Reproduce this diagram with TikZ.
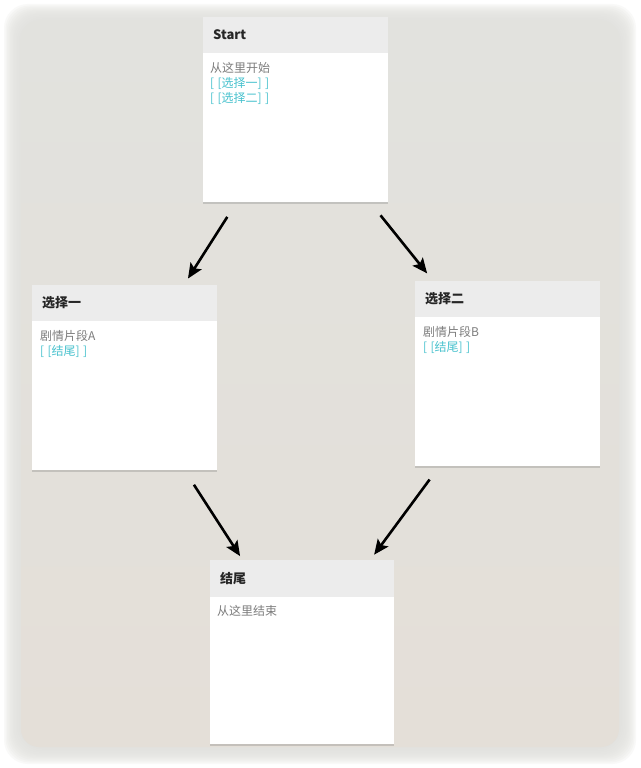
\documentclass[tikz,border=0pt]{standalone}
\usepackage{fontspec}
\setmainfont{Noto Sans CJK SC}
\usepackage{tikz}
\usetikzlibrary{positioning,calc,arrows.meta,shadows}
\definecolor{bggrey}{RGB}{226,226,222}
\definecolor{bgbeige}{RGB}{228,223,216}
\definecolor{headgrey}{RGB}{236,236,236}
\definecolor{bodygrey}{RGB}{125,125,125}
\definecolor{linkcyan}{RGB}{72,194,206}
\tikzset{
  card/.style={draw=none,fill=white,anchor=north west,inner sep=0pt,
    minimum width=185pt,minimum height=185pt,
    drop shadow={shadow xshift=0pt,shadow yshift=-2pt,opacity=0.25,fill=black!60}},
  cardhead/.style={fill=headgrey,anchor=north west,inner sep=0pt,
    minimum width=185pt,minimum height=36pt},
  cardtitle/.style={anchor=west,inner sep=0pt,font=\fontsize{13pt}{15pt}\selectfont\bfseries,text=black!85},
  cardbody/.style={anchor=north west,inner sep=0pt,align=left,
    font=\fontsize{12pt}{15pt}\selectfont,text=bodygrey},
  arr/.style={line width=2.6pt,-{Stealth[length=15pt,width=13pt,inset=3pt]}}
}
\newcommand*{\lnk}[1]{\textcolor{linkcyan}{[\;[#1]\;]}}

\begin{document}
\begin{tikzpicture}[x=1pt,y=-1pt]
\useasboundingbox (0,0) rectangle (640,768);
% Background with soft edge
\fill[white] (0,0) rectangle (640,768);
\foreach \i in {0,...,11}
  \fill[bggrey,opacity=0.2,rounded corners=24pt] ({4+1.5*\i},{4+1.5*\i}) rectangle ({636-1.5*\i},{764-1.5*\i});
\shade[top color=bggrey,bottom color=bgbeige,rounded corners=18pt] (21,21) rectangle (619,747);

% Cards
\node[card] (start) at (203,17) {};
\node[card] (sela) at (32,285) {};
\node[card] (selb) at (415,281) {};
\node[card,minimum width=184pt,minimum height=184pt] (ending) at (210,560) {};

% Headers
\node[cardhead] (starthead) at (start.north west) {};
\node[cardhead] (selahead) at (sela.north west) {};
\node[cardhead] (selbhead) at (selb.north west) {};
\node[cardhead,minimum width=184pt,minimum height=37pt] (endinghead) at (ending.north west) {};

% Titles and passages
\node[cardtitle] (starttitle) at ([shift={(10,18)}]start.north west) {Start};
\node[cardbody] (starttext) at ([shift={(7,45)}]start.north west)
  {从这里开始\\\lnk{选择一}\\\lnk{选择二}};
\node[cardtitle] (selatitle) at ([shift={(10,18)}]sela.north west) {选择一};
\node[cardbody] (selatext) at ([shift={(8,45)}]sela.north west)
  {剧情片段A\\\lnk{结尾}};
\node[cardtitle] (selbtitle) at ([shift={(10,18)}]selb.north west) {选择二};
\node[cardbody] (selbtext) at ([shift={(8,45)}]selb.north west)
  {剧情片段B\\\lnk{结尾}};
\node[cardtitle] (endingtitle) at ([shift={(10,19)}]ending.north west) {结尾};
\node[cardbody] (endingtext) at ([shift={(7,45)}]ending.north west)
  {从这里结束};

% Links between passages
\draw[arr] ($(start)!0.40!(sela)$) -- ($(start)!0.63!(sela)$);
\draw[arr] ($(start)!0.40!(selb)$) -- ($(start)!0.62!(selb)$);
\draw[arr] ($(sela)!0.39!(ending)$) -- ($(sela)!0.65!(ending)$);
\draw[arr] ($(selb)!0.38!(ending)$) -- ($(selb)!0.65!(ending)$);
\end{tikzpicture}
\end{document}
